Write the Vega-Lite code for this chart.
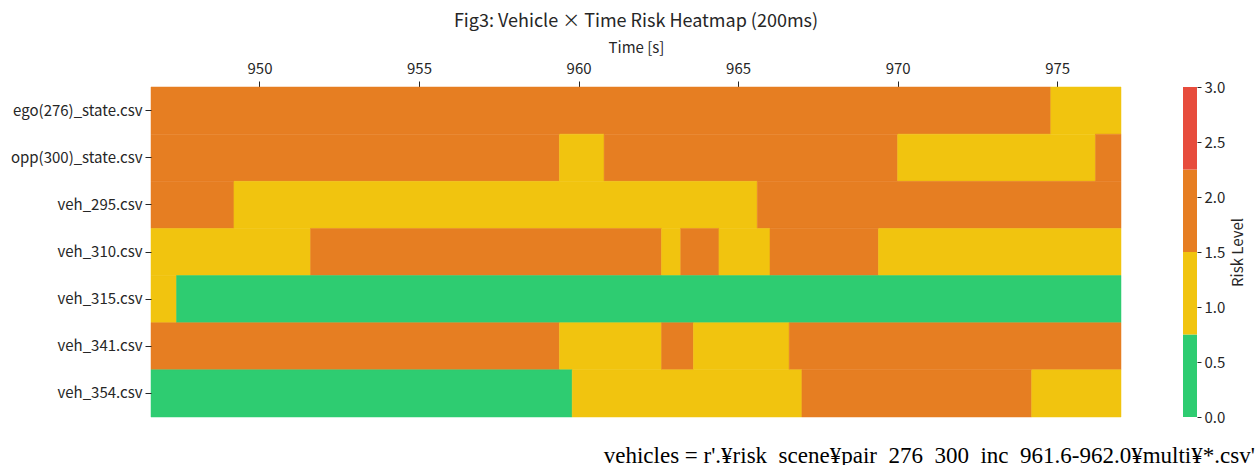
{
  "$schema": "https://vega.github.io/schema/vega-lite/v6.json",
  "background": "white",
  "padding": {"left": 10, "top": 13, "right": 5, "bottom": 0},
  "title": {
    "text": "vehicles = r'.¥risk_scene¥pair_276_300_inc_961.6-962.0¥multi¥*.csv'",
    "orient": "bottom",
    "anchor": "end",
    "font": "Liberation Serif",
    "fontSize": 23,
    "fontWeight": "normal",
    "color": "#000000",
    "offset": 20,
    "dx": 9
  },
  "datasets": {
    "cells": [
      {"vehicle": "ego(276)_state.csv", "t0": 946.6, "t1": 974.8, "risk": 2},
      {"vehicle": "ego(276)_state.csv", "t0": 974.8, "t1": 977.0, "risk": 1},
      {"vehicle": "opp(300)_state.csv", "t0": 946.6, "t1": 959.4, "risk": 2},
      {"vehicle": "opp(300)_state.csv", "t0": 959.4, "t1": 960.8, "risk": 1},
      {"vehicle": "opp(300)_state.csv", "t0": 960.8, "t1": 970.0, "risk": 2},
      {"vehicle": "opp(300)_state.csv", "t0": 970.0, "t1": 976.2, "risk": 1},
      {"vehicle": "opp(300)_state.csv", "t0": 976.2, "t1": 977.0, "risk": 2},
      {"vehicle": "veh_295.csv", "t0": 946.6, "t1": 949.2, "risk": 2},
      {"vehicle": "veh_295.csv", "t0": 949.2, "t1": 965.6, "risk": 1},
      {"vehicle": "veh_295.csv", "t0": 965.6, "t1": 977.0, "risk": 2},
      {"vehicle": "veh_310.csv", "t0": 946.6, "t1": 951.6, "risk": 1},
      {"vehicle": "veh_310.csv", "t0": 951.6, "t1": 962.6, "risk": 2},
      {"vehicle": "veh_310.csv", "t0": 962.6, "t1": 963.2, "risk": 1},
      {"vehicle": "veh_310.csv", "t0": 963.2, "t1": 964.4, "risk": 2},
      {"vehicle": "veh_310.csv", "t0": 964.4, "t1": 966.0, "risk": 1},
      {"vehicle": "veh_310.csv", "t0": 966.0, "t1": 969.4, "risk": 2},
      {"vehicle": "veh_310.csv", "t0": 969.4, "t1": 977.0, "risk": 1},
      {"vehicle": "veh_315.csv", "t0": 946.6, "t1": 947.4, "risk": 1},
      {"vehicle": "veh_315.csv", "t0": 947.4, "t1": 977.0, "risk": 0},
      {"vehicle": "veh_341.csv", "t0": 946.6, "t1": 959.4, "risk": 2},
      {"vehicle": "veh_341.csv", "t0": 959.4, "t1": 962.6, "risk": 1},
      {"vehicle": "veh_341.csv", "t0": 962.6, "t1": 963.6, "risk": 2},
      {"vehicle": "veh_341.csv", "t0": 963.6, "t1": 966.6, "risk": 1},
      {"vehicle": "veh_341.csv", "t0": 966.6, "t1": 977.0, "risk": 2},
      {"vehicle": "veh_354.csv", "t0": 946.6, "t1": 959.8, "risk": 0},
      {"vehicle": "veh_354.csv", "t0": 959.8, "t1": 967.0, "risk": 1},
      {"vehicle": "veh_354.csv", "t0": 967.0, "t1": 974.2, "risk": 2},
      {"vehicle": "veh_354.csv", "t0": 974.2, "t1": 977.0, "risk": 1}
    ],
    "levels": [
      {"lo": 0.0, "hi": 0.75},
      {"lo": 0.75, "hi": 1.5},
      {"lo": 1.5, "hi": 2.25},
      {"lo": 2.25, "hi": 3.0}
    ]
  },
  "spacing": 61,
  "resolve": {"scale": {"color": "independent", "y": "independent", "x": "independent"}},
  "hconcat": [
    {
      "title": {
        "text": "Fig3: Vehicle × Time Risk Heatmap (200ms)",
        "fontSize": 18,
        "fontWeight": "normal",
        "anchor": "middle",
        "offset": 9,
        "color": "#262626"
      },
      "width": 970,
      "height": 330,
      "data": {"name": "cells"},
      "mark": {"type": "rect", "strokeWidth": 0.5},
      "encoding": {
        "x": {
          "field": "t0",
          "type": "quantitative",
          "scale": {"domain": [946.6, 977.0], "nice": false, "zero": false},
          "axis": {"orient": "top", "values": [950, 955, 960, 965, 970, 975], "format": "d", "title": "Time [s]", "grid": false, "domain": false, "tickSize": 6, "labelPadding": 5, "titlePadding": 6}
        },
        "x2": {"field": "t1"},
        "y": {
          "field": "vehicle",
          "type": "nominal",
          "sort": ["ego(276)_state.csv", "opp(300)_state.csv", "veh_295.csv", "veh_310.csv", "veh_315.csv", "veh_341.csv", "veh_354.csv"],
          "scale": {"paddingInner": 0, "paddingOuter": 0},
          "axis": {"title": null, "domain": false, "grid": false, "tickSize": 6, "labelPadding": 3}
        },
        "color": {
          "field": "risk",
          "type": "quantitative",
          "scale": {"type": "threshold", "domain": [0.75, 1.5, 2.25], "range": ["#2ecc71", "#f1c40f", "#e67e22", "#e74c3c"]},
          "legend": null
        },
        "stroke": {
          "field": "risk",
          "type": "quantitative",
          "scale": {"type": "threshold", "domain": [0.75, 1.5, 2.25], "range": ["#2ecc71", "#f1c40f", "#e67e22", "#e74c3c"]},
          "legend": null
        }
      }
    },
    {
      "width": 14,
      "height": 330,
      "data": {"name": "levels"},
      "mark": {"type": "rect"},
      "encoding": {
        "x": {"value": 0},
        "x2": {"value": "width"},
        "y": {
          "field": "lo",
          "type": "quantitative",
          "scale": {"domain": [0, 3], "nice": false, "zero": false},
          "axis": {"orient": "right", "values": [0, 0.5, 1, 1.5, 2, 2.5, 3], "format": ".1f", "title": "Risk Level", "titleAngle": 270, "titleBaseline": "top", "titlePadding": 6, "grid": false, "domain": false, "tickSize": 4, "labelPadding": 3}
        },
        "y2": {"field": "hi"},
        "color": {
          "field": "lo",
          "type": "quantitative",
          "scale": {"type": "threshold", "domain": [0.75, 1.5, 2.25], "range": ["#2ecc71", "#f1c40f", "#e67e22", "#e74c3c"]},
          "legend": null
        }
      }
    }
  ],
  "config": {
    "font": "Noto Sans CJK JP",
    "view": {"stroke": null},
    "axis": {
      "labelFont": "Noto Sans CJK JP",
      "titleFont": "Noto Sans CJK JP",
      "labelFontSize": 15,
      "titleFontSize": 15,
      "titleFontWeight": "normal",
      "labelColor": "#262626",
      "titleColor": "#262626",
      "tickColor": "#262626"
    }
  }
}
